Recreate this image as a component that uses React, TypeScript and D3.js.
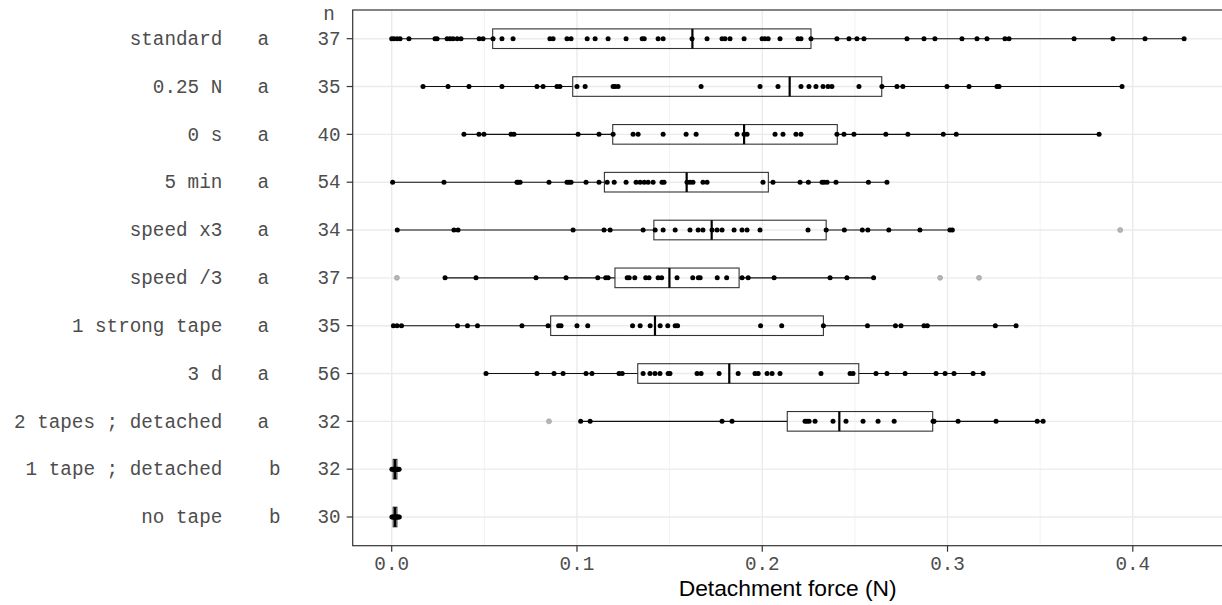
import React from "react";
import * as d3 from "d3";

// Treatments, top to bottom
const categories = [
  "standard",
  "0.25 N",
  "0 s",
  "5 min",
  "speed x3",
  "speed /3",
  "1 strong tape",
  "3 d",
  "2 tapes ; detached",
  "1 tape ; detached",
  "no tape",
];
// Compact letter display (significance groups)
const groupLetters = ["a ", "a ", "a ", "a ", "a ", "a ", "a ", "a ", "a ", " b", " b"];
const sampleSizes = [37, 35, 40, 54, 34, 37, 35, 56, 32, 32, 30];

// Box statistics (N)
const lowerHinge = [0.0545, 0.0977, 0.1193, 0.1148, 0.1415, 0.1205, 0.0858, 0.1328, 0.2135, 0.0008, 0.0008];
const medians = [0.1623, 0.2148, 0.1902, 0.1592, 0.1727, 0.1499, 0.1421, 0.1822, 0.2416, 0.0018, 0.0018];
const upperHinge = [0.2263, 0.2645, 0.2405, 0.2033, 0.2345, 0.1875, 0.233, 0.2521, 0.292, 0.0028, 0.0028];

// Individual detachment forces (N)
const standardVals = [0.0, 0.0012, 0.0029, 0.0045, 0.0093, 0.0234, 0.0245, 0.0299, 0.0315, 0.0331, 0.0353, 0.0374, 0.0472, 0.0493, 0.0547, 0.0595, 0.0655, 0.0854, 0.0871, 0.0946, 0.0968, 0.1055, 0.1098, 0.1168, 0.1265, 0.1352, 0.1363, 0.1438, 0.1465, 0.1621, 0.1702, 0.1783, 0.1799, 0.1826, 0.1902, 0.1999, 0.2015, 0.2032, 0.2096, 0.2193, 0.2209, 0.2263, 0.2403, 0.2468, 0.2511, 0.2549, 0.2781, 0.2873, 0.2932, 0.3078, 0.3159, 0.3213, 0.331, 0.3332, 0.3683, 0.3893, 0.4066, 0.4277];
const lowForceVals = [0.0169, 0.0304, 0.0417, 0.0595, 0.0784, 0.0817, 0.0892, 0.0908, 0.1, 0.1044, 0.1195, 0.1206, 0.1222, 0.167, 0.1988, 0.2085, 0.2209, 0.2252, 0.229, 0.2328, 0.2355, 0.2376, 0.2522, 0.2646, 0.2727, 0.2759, 0.2997, 0.3116, 0.3267, 0.3278, 0.3942];
const zeroSecVals = [0.039, 0.0471, 0.0498, 0.0644, 0.066, 0.1006, 0.1119, 0.1195, 0.1303, 0.133, 0.1465, 0.1589, 0.1643, 0.1864, 0.1902, 0.1918, 0.2069, 0.2112, 0.2182, 0.2209, 0.2403, 0.2441, 0.2495, 0.2667, 0.2786, 0.2977, 0.3047, 0.3818];
const fiveMinVals = [0.0005, 0.0282, 0.0676, 0.0682, 0.0693, 0.0849, 0.0946, 0.0957, 0.0968, 0.1049, 0.1119, 0.1163, 0.1201, 0.1265, 0.1319, 0.1341, 0.1363, 0.1384, 0.1411, 0.1459, 0.147, 0.1594, 0.161, 0.1626, 0.168, 0.1702, 0.2004, 0.2058, 0.2204, 0.2249, 0.2323, 0.2334, 0.235, 0.2398, 0.2573, 0.2673];
const speedX3Vals = [0.003, 0.0336, 0.0358, 0.0979, 0.1146, 0.1179, 0.1357, 0.1422, 0.1465, 0.153, 0.161, 0.1654, 0.168, 0.1729, 0.1756, 0.1783, 0.1848, 0.1891, 0.1918, 0.1988, 0.2247, 0.2345, 0.2443, 0.254, 0.257, 0.2683, 0.2851, 0.3013, 0.3026, 0.3932];
const speedDiv3Vals = [0.0028, 0.0288, 0.0455, 0.0779, 0.0941, 0.1112, 0.1155, 0.1168, 0.1271, 0.1282, 0.1312, 0.1371, 0.1389, 0.1438, 0.1457, 0.154, 0.1625, 0.1655, 0.1665, 0.1757, 0.1808, 0.1891, 0.1924, 0.2064, 0.2366, 0.2457, 0.2601, 0.296, 0.317];
const strongTapeVals = [0.0009, 0.0029, 0.0053, 0.0355, 0.0409, 0.0463, 0.0703, 0.0844, 0.0901, 0.0914, 0.1, 0.1058, 0.13, 0.1341, 0.1395, 0.1449, 0.149, 0.153, 0.1543, 0.1991, 0.2105, 0.233, 0.2568, 0.2719, 0.2749, 0.2873, 0.2891, 0.3258, 0.337];
const threeDayVals = [0.0509, 0.0784, 0.0876, 0.0925, 0.1049, 0.1081, 0.1227, 0.1244, 0.1357, 0.1394, 0.1421, 0.1448, 0.1492, 0.1502, 0.1648, 0.167, 0.1767, 0.187, 0.1961, 0.1978, 0.2026, 0.2053, 0.2096, 0.2317, 0.2474, 0.249, 0.2614, 0.2673, 0.2771, 0.2938, 0.2987, 0.3035, 0.3138, 0.3192];
const twoTapesVals = [0.0849, 0.102, 0.1071, 0.1783, 0.1837, 0.2231, 0.2242, 0.2253, 0.2285, 0.2382, 0.2452, 0.2544, 0.2625, 0.2712, 0.2922, 0.2927, 0.3057, 0.3262, 0.3484, 0.3516];
const oneTapeVals = [0.0001, 0.0008, 0.0012, 0.0016, 0.0018, 0.0018, 0.002, 0.0022, 0.0026, 0.003, 0.0035, 0.004];
const noTapeVals = [0.0001, 0.0007, 0.0012, 0.0015, 0.0018, 0.0018, 0.002, 0.0023, 0.0027, 0.0031, 0.0036, 0.0041];

const seriesValues = [
  standardVals,
  lowForceVals,
  zeroSecVals,
  fiveMinVals,
  speedX3Vals,
  speedDiv3Vals,
  strongTapeVals,
  threeDayVals,
  twoTapesVals,
  oneTapeVals,
  noTapeVals,
];

const xTicks = [0, 0.1, 0.2, 0.3, 0.4];
const xMinorTicks = [0.05, 0.15, 0.25, 0.35, 0.45];

const W = 1222;
const H = 605;
const panel = { left: 352.7, right: 1222.6, top: 10, bottom: 545.7 };
const monoFont = "'Liberation Mono', 'DejaVu Sans Mono', monospace";
const sansFont = "'Liberation Sans', Arial, sans-serif";
const axisTextColor = "#4d4d4d";
const gridColor = "#ebebeb";
const borderColor = "#333333";

export default function App() {
  const x = d3.scaleLinear().domain([-0.02105, 0.44847]).range([panel.left, panel.right]);
  const y = d3
    .scalePoint<string>()
    .domain(categories)
    .range([panel.top, panel.bottom])
    .padding(0.6);
  const halfBox = y.step() * 0.205;

  const rows = categories.map((cat, i) => {
    const vals = seriesValues[i];
    const q1 = lowerHinge[i];
    const q3 = upperHinge[i];
    const iqr = q3 - q1;
    const lo = q1 - 1.5 * iqr;
    const hi = q3 + 1.5 * iqr;
    const inside = vals.filter((v) => v >= lo && v <= hi);
    const outliers = vals.filter((v) => v < lo || v > hi);
    return {
      cat,
      cy: y(cat) as number,
      q1,
      med: medians[i],
      q3,
      wlo: d3.min(inside) as number,
      whi: d3.max(inside) as number,
      inside,
      outliers,
      letters: groupLetters[i],
      n: sampleSizes[i],
    };
  });

  return (
    <svg
      width={W}
      height={H}
      style={{ position: "absolute", left: 0, top: 0, background: "#ffffff" }}
    >
      <rect x={0} y={0} width={W} height={H} fill="#ffffff" />

      {/* grid */}
      {xMinorTicks.map((t) => (
        <line key={"mn" + t} x1={x(t)} x2={x(t)} y1={panel.top} y2={panel.bottom} stroke={gridColor} strokeWidth={0.7} />
      ))}
      {xTicks.map((t) => (
        <line key={"mj" + t} x1={x(t)} x2={x(t)} y1={panel.top} y2={panel.bottom} stroke={gridColor} strokeWidth={1.4} />
      ))}
      {rows.map((r) => (
        <line key={"hg" + r.cat} x1={panel.left} x2={panel.right} y1={r.cy} y2={r.cy} stroke={gridColor} strokeWidth={1.4} />
      ))}

      {/* boxplots */}
      {rows.map((r) => (
        <g key={"box" + r.cat}>
          <line x1={x(r.wlo)} x2={x(r.q1)} y1={r.cy} y2={r.cy} stroke="#111" strokeWidth={1.1} />
          <line x1={x(r.q3)} x2={x(r.whi)} y1={r.cy} y2={r.cy} stroke="#111" strokeWidth={1.1} />
          <rect
            x={x(r.q1)}
            y={r.cy - halfBox}
            width={x(r.q3) - x(r.q1)}
            height={halfBox * 2}
            fill="none"
            stroke={borderColor}
            strokeWidth={1.1}
          />
          <line x1={x(r.med)} x2={x(r.med)} y1={r.cy - halfBox} y2={r.cy + halfBox} stroke="#000" strokeWidth={2.2} />
          {r.outliers.map((v, j) => (
            <circle key={"o" + j} cx={x(v)} cy={r.cy} r={2.5} fill="#b5b5b5" stroke="#9a9a9a" strokeWidth={0.6} />
          ))}
          {r.inside.map((v, j) => (
            <circle key={"p" + j} cx={x(v)} cy={r.cy} r={2.5} fill="#000" />
          ))}
        </g>
      ))}

      {/* panel border */}
      <rect
        x={panel.left}
        y={panel.top}
        width={panel.right - panel.left}
        height={panel.bottom - panel.top}
        fill="none"
        stroke={borderColor}
        strokeWidth={1.2}
      />

      {/* y axis */}
      {rows.map((r) => (
        <g key={"yl" + r.cat} fontFamily={monoFont} fontSize={19.3} fill={axisTextColor}>
          <line x1={panel.left - 6} x2={panel.left} y1={r.cy} y2={r.cy} stroke={borderColor} strokeWidth={1.2} />
          <text x={222.3} y={r.cy + 6.3} textAnchor="end">{r.cat}</text>
          <text x={257.5} y={r.cy + 6.3} style={{ whiteSpace: "pre" }}>{r.letters}</text>
          <text x={340.6} y={r.cy + 6.3} textAnchor="end">{r.n}</text>
        </g>
      ))}
      <text x={329} y={20} textAnchor="middle" fontFamily={monoFont} fontSize={19.3} fill={axisTextColor}>
        n
      </text>

      {/* x axis */}
      {xTicks.map((t) => (
        <g key={"xt" + t}>
          <line x1={x(t)} x2={x(t)} y1={panel.bottom} y2={panel.bottom + 6} stroke={borderColor} strokeWidth={1.2} />
          <text
            x={x(t)}
            y={570}
            textAnchor="middle"
            fontFamily={monoFont}
            fontSize={19.3}
            fill={axisTextColor}
          >
            {d3.format(".1f")(t)}
          </text>
        </g>
      ))}
      <text
        x={(panel.left + panel.right) / 2}
        y={596}
        textAnchor="middle"
        fontFamily={sansFont}
        fontSize={22.8}
        fill="#000"
      >
        Detachment force (N)
      </text>
    </svg>
  );
}
